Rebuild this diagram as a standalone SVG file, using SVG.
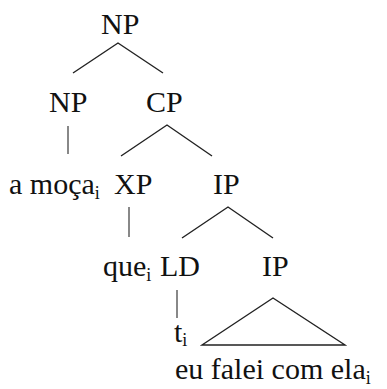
<svg xmlns="http://www.w3.org/2000/svg" width="387" height="389" viewBox="0 0 387 389">
<style>
text{font-family:"Liberation Serif","Times New Roman",serif;font-size:30px;fill:#111}
.sub{font-size:18px}
.b{stroke:#222;stroke-width:1.4;fill:none}
.g{stroke:#888;stroke-width:2;fill:none}
</style>
<rect width="387" height="389" fill="#fff"/>
<g id="connectors">
<polyline class="b" points="73,73 118,43 163,73"/>
<line class="g" x1="68" y1="126" x2="68" y2="154"/>
<polyline class="b" points="121,156 167,125 212,156"/>
<line class="g" x1="129" y1="207" x2="129" y2="237"/>
<polyline class="b" points="182,238 228,207 273,238"/>
<line class="g" x1="177" y1="290" x2="177" y2="318"/>
<polygon class="b" points="202,345 273,298 345,345"/>
</g>
<g id="np-root"><text x="101" y="34">NP</text></g>
<g id="np"><text x="49" y="112">NP</text></g>
<g id="cp"><text x="146" y="112">CP</text></g>
<g id="a-moca"><text x="9" y="194">a moça<tspan class="sub" dy="5">i</tspan></text></g>
<g id="xp"><text x="114" y="194">XP</text></g>
<g id="ip1"><text x="213" y="194">IP</text></g>
<g id="que"><text x="103" y="276">que<tspan class="sub" dy="5">i</tspan></text></g>
<g id="ld"><text x="160" y="276">LD</text></g>
<g id="ip2"><text x="262" y="276">IP</text></g>
<g id="t"><text x="174" y="342">t<tspan class="sub" dy="4">i</tspan></text></g>
<g id="eu"><text x="175" y="379">eu falei com ela<tspan class="sub" dy="5">i</tspan></text></g>
</svg>
